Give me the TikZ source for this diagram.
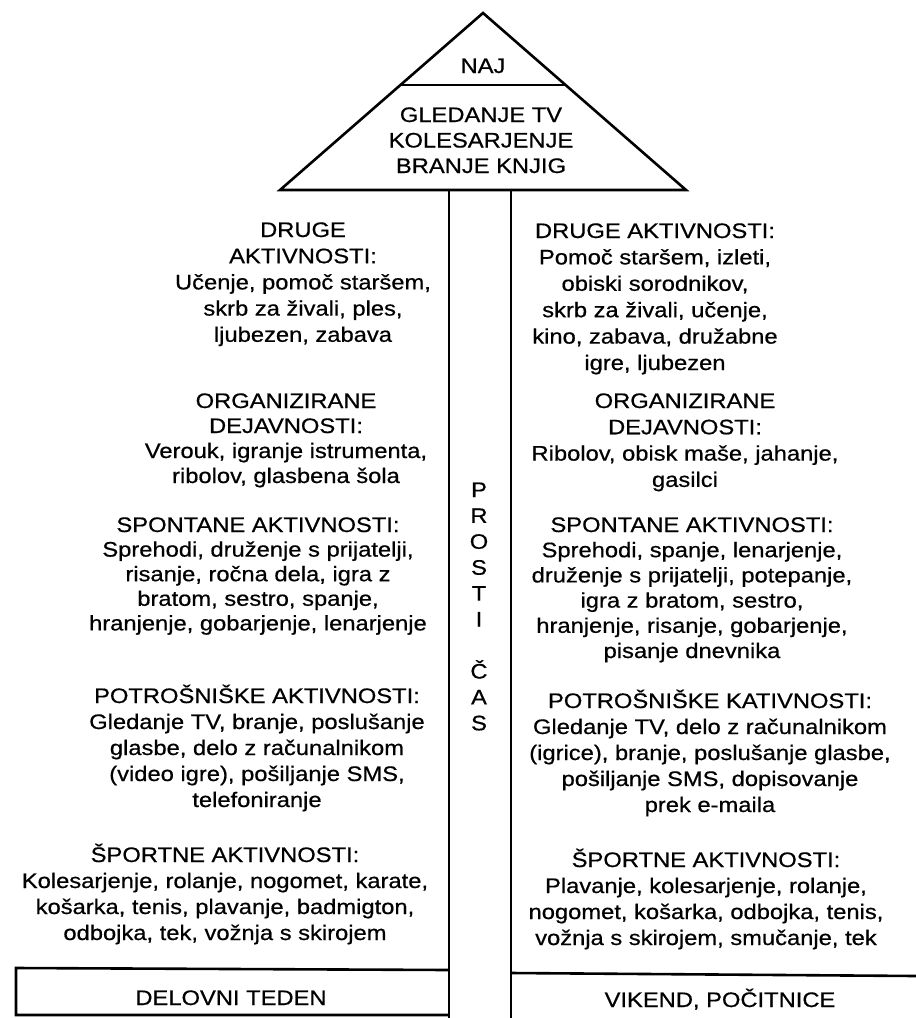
\documentclass[tikz,border=0pt]{standalone}
\usepackage{fontspec}
\setmainfont{Liberation Sans}[FakeStretch=1.13,FakeBold=0.6]
\newcommand{\stk}[1]{\begin{tabular}[t]{@{}c@{}}#1\end{tabular}}
\begin{document}
\begin{tikzpicture}[x=1pt,y=-1pt,line width=2.6pt,
  lbl/.style={inner sep=0pt,anchor=base,font=\fontsize{21}{26}\selectfont},
  lbls/.style={inner sep=0pt,anchor=base,font=\fontsize{21}{#1}\selectfont}]
\useasboundingbox (0,0) rectangle (916,1018);
% triangle
\coordinate (apex) at (483,13);
\coordinate (bl) at (280,190);
\coordinate (br) at (686,190);
\draw (bl) -- (apex) -- (br) -- cycle;
\path (apex) -- (bl) coordinate[pos=0.4068] (hl);
\path (apex) -- (br) coordinate[pos=0.4068] (hr);
\draw (hl) -- (hr);
% column
\coordinate (cl1) at (449,190);
\coordinate (cl2) at (449,1018);
\coordinate (cr1) at (511,190);
\coordinate (cr2) at (511,1018);
\draw (cl1) -- (cl2);
\draw (cr1) -- (cr2);
% bottom boxes
\coordinate (lb1) at (449,970);
\coordinate (lb2) at (16,968);
\coordinate (lb3) at (16,1015);
\coordinate (lb4) at (449,1015);
\draw (lb1) -- (lb2) -- (lb3) -- (lb4);
\coordinate (rb1) at (511,973);
\coordinate (rb2) at (916,976);
\draw (rb1) -- (rb2);
% triangle texts
\node[lbl] (naj) at (483,73) {NAJ};
\node[lbls=25.5] (top) at (481,122) {\stk{GLEDANJE TV\\KOLESARJENJE\\BRANJE KNJIG}};
% column text
\node[lbls=25.9] (pc) at (479,497) {\stk{P\\R\\O\\S\\T\\I\\ \\Č\\A\\S}};
% left blocks
\node[lbls=26.2] (l1) at (303,237) {\stk{DRUGE\\AKTIVNOSTI:\\Učenje, pomoč staršem,\\skrb za živali, ples,\\ljubezen, zabava}};
\node[lbls=25] (l2) at (286,408) {\stk{ORGANIZIRANE\\DEJAVNOSTI:\\Verouk, igranje istrumenta,\\ribolov, glasbena šola}};
\node[lbls=24.6] (l3) at (258,532) {\stk{SPONTANE AKTIVNOSTI:\\Sprehodi, druženje s prijatelji,\\risanje, ročna dela, igra z\\bratom, sestro, spanje,\\hranjenje, gobarjenje, lenarjenje}};
\node[lbls=26] (l4) at (257,703) {\stk{POTROŠNIŠKE AKTIVNOSTI:\\Gledanje TV, branje, poslušanje\\glasbe, delo z računalnikom\\(video igre), pošiljanje SMS,\\telefoniranje}};
\node[lbls=26] (l5) at (225,862) {\stk{ŠPORTNE AKTIVNOSTI:\\Kolesarjenje, rolanje, nogomet, karate,\\košarka, tenis, plavanje, badmigton,\\odbojka, tek, vožnja s skirojem}};
% right blocks
\node[lbls=26.4] (r1) at (655,238) {\stk{DRUGE AKTIVNOSTI:\\Pomoč staršem, izleti,\\obiski sorodnikov,\\skrb za živali, učenje,\\kino, zabava, družabne\\igre, ljubezen}};
\node[lbls=26.3] (r2) at (685,408) {\stk{ORGANIZIRANE\\DEJAVNOSTI:\\Ribolov, obisk maše, jahanje,\\gasilci}};
\node[lbls=25.2] (r3) at (692,532) {\stk{SPONTANE AKTIVNOSTI:\\Sprehodi, spanje, lenarjenje,\\druženje s prijatelji, potepanje,\\igra z bratom, sestro,\\hranjenje, risanje, gobarjenje,\\pisanje dnevnika}};
\node[lbls=26] (r4) at (710,708) {\stk{POTROŠNIŠKE KATIVNOSTI:\\Gledanje TV, delo z računalnikom\\(igrice), branje, poslušanje glasbe,\\pošiljanje SMS, dopisovanje\\prek e-maila}};
\node[lbls=26] (r5) at (706,867) {\stk{ŠPORTNE AKTIVNOSTI:\\Plavanje, kolesarjenje, rolanje,\\nogomet, košarka, odbojka, tenis,\\vožnja s skirojem, smučanje, tek}};
% bottom labels
\node[lbl] (wd) at (231,1005) {DELOVNI TEDEN};
\node[lbl] (we) at (720,1007) {VIKEND, POČITNICE};
\end{tikzpicture}
\end{document}
